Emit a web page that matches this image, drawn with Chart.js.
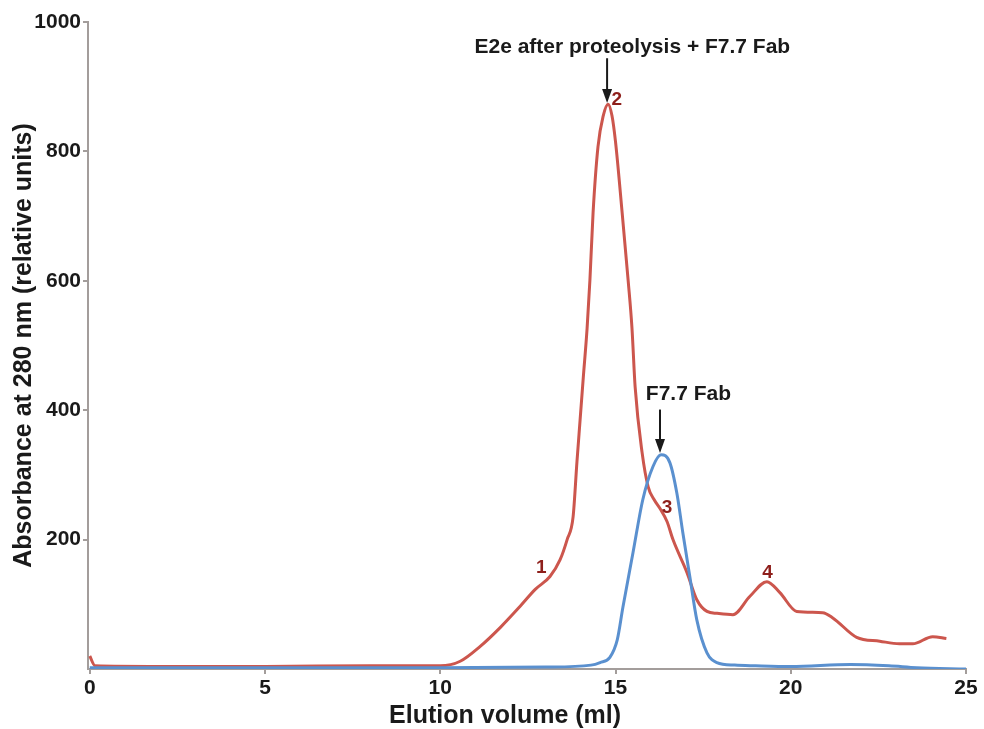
<!DOCTYPE html>
<html>
<head>
<meta charset="utf-8">
<script src="https://cdn.jsdelivr.net/npm/chart.js@4.4.0/dist/chart.umd.min.js"></script>
<style>
  html, body { margin: 0; padding: 0; background: #fff; }
  #wrap { width: 984px; height: 729px; }
</style>
</head>
<body>
<div id="wrap"><canvas id="grafico"></canvas></div>
<script>
// elution volume (ml) / absorbance
const redX = [0, 0.15, 2, 5, 8, 10, 10.57, 11.14, 11.71, 12.28, 12.71, 13.13, 13.42, 13.62, 13.79, 13.9, 13.99, 14.08, 14.19, 14.27, 14.36, 14.5, 14.65, 14.79, 14.9, 15.0, 15.19, 15.36, 15.47, 15.56, 15.76, 15.93, 16.1, 16.27, 16.47, 16.64, 17.04, 17.32, 17.61, 17.9, 18.35, 18.83, 19.32, 19.69, 20.17, 20.91, 21.2, 21.88, 22.54, 23.1, 23.48, 24.05, 24.44];
const redY = [20, 5, 4, 4, 5, 5, 12, 35, 64, 97, 123, 143, 169, 200, 235, 320, 385, 450, 527, 601, 705, 807, 855, 873, 855, 815, 705, 601, 527, 436, 334, 282, 262, 248, 228, 200, 149, 107, 89, 86, 84, 112, 135, 118, 89, 87, 79, 49, 43, 39, 39, 50, 47];

const blueX = [0, 5, 10, 13, 14.3, 14.56, 14.84, 15.05, 15.21, 15.5, 15.78, 16.07, 16.3, 16.55, 16.75, 16.92, 17.12, 17.32, 17.61, 17.89, 18.4, 19, 20, 21.7, 22.8, 23.6, 25];
const blueY = [2, 2, 2, 3, 6, 10, 18, 45, 95, 180, 262, 313, 331, 319, 272, 211, 143, 76, 25, 10, 6, 5, 4, 7, 5, 2, 0];

const xTicks = [0, 5, 10, 15, 20, 25];
const yTicks = [200, 400, 600, 800, 1000];

const peakLabels = ["1", "2", "3", "4"];
const peakLabelX = [12.88, 15.04, 16.47, 19.34];
const peakLabelY = [157, 880, 249, 149];

const arrowTexts = ["E2e after proteolysis + F7.7 Fab", "F7.7 Fab"];
const arrowX = [14.76, 16.27];
const arrowTextX = [15.48, 17.08];
const arrowTop = [944, 401];
const arrowTip = [875, 334];
const arrowTextY = [961, 424];

const tituloX = "Elution volume (ml)";
const tituloY = "Absorbance at 280 nm (relative units)";
const fonteFamilia = "'Liberation Sans', Arial, sans-serif";

const toPoints = (xs, ys) => xs.map((x, i) => ({ x: x, y: ys[i] }));

const anotacoes = {
  id: "anotacoes",
  afterDatasetsDraw(chart) {
    const ctx = chart.ctx;
    const sx = chart.scales.x, sy = chart.scales.y;
    ctx.save();
    ctx.textAlign = "center";
    ctx.textBaseline = "middle";
    // números dos picos
    ctx.fillStyle = "#8e1f1b";
    ctx.font = "bold 19px " + fonteFamilia;
    peakLabels.forEach((t, i) => {
      ctx.fillText(t, sx.getPixelForValue(peakLabelX[i]), sy.getPixelForValue(peakLabelY[i]));
    });
    // setas com legenda
    ctx.fillStyle = "#1a1a1a";
    ctx.strokeStyle = "#1a1a1a";
    ctx.lineWidth = 2;
    arrowTexts.forEach((t, i) => {
      const px = sx.getPixelForValue(arrowX[i]);
      const y0 = sy.getPixelForValue(arrowTop[i]);
      const y1 = sy.getPixelForValue(arrowTip[i]);
      ctx.beginPath();
      ctx.moveTo(px, y0);
      ctx.lineTo(px, y1 - 10);
      ctx.stroke();
      ctx.beginPath();
      ctx.moveTo(px - 5, y1 - 14);
      ctx.lineTo(px + 5, y1 - 14);
      ctx.lineTo(px, y1);
      ctx.closePath();
      ctx.fill();
      ctx.font = "bold 21px " + fonteFamilia;
      ctx.fillText(t, sx.getPixelForValue(arrowTextX[i]), sy.getPixelForValue(arrowTextY[i]));
    });
    // título do eixo x (um pouco à esquerda do centro, como no original)
    ctx.font = "bold 25px " + fonteFamilia;
    ctx.fillText(tituloX, sx.getPixelForValue(11.85), chart.height - 13);
    ctx.restore();
  }
};

const eixoCor = "#a39d9b";
const fonteTick = { family: fonteFamilia, size: 21, weight: "bold" };
const fonteTitulo = { family: fonteFamilia, size: 25, weight: "bold" };

new Chart(document.getElementById("grafico"), {
  type: "line",
  data: {
    datasets: [
      {
        label: "F7.7 Fab",
        data: toPoints(blueX, blueY),
        borderColor: "#5a90cf",
        borderWidth: 3,
        pointRadius: 0,
        cubicInterpolationMode: "monotone",
        fill: false
      },
      {
        label: "E2e after proteolysis + F7.7 Fab",
        data: toPoints(redX, redY),
        borderColor: "#cc564d",
        borderWidth: 3,
        pointRadius: 0,
        cubicInterpolationMode: "monotone",
        fill: false
      }
    ]
  },
  options: {
    responsive: true,
    maintainAspectRatio: false,
    animation: false,
    layout: { padding: { top: 22, right: 18, left: 0, bottom: 0 } },
    plugins: { legend: { display: false }, tooltip: { enabled: false } },
    scales: {
      x: {
        type: "linear",
        min: -0.05,
        max: 25,
        afterBuildTicks: (s) => { s.ticks = xTicks.map(v => ({ value: v })); },
        afterFit: (s) => { s.height = 60; },
        grid: { drawOnChartArea: false, drawTicks: true, tickLength: 5, color: eixoCor, lineWidth: 2 },
        border: { color: eixoCor, width: 2 },
        ticks: { color: "#1a1a1a", font: fonteTick, padding: 2 }
      },
      y: {
        min: 0,
        max: 1000,
        afterBuildTicks: (s) => { s.ticks = yTicks.map(v => ({ value: v })); },
        afterFit: (s) => { s.width = 88; },
        grid: { drawOnChartArea: false, drawTicks: true, tickLength: 5, color: eixoCor, lineWidth: 2 },
        border: { color: eixoCor, width: 2 },
        ticks: { color: "#1a1a1a", font: fonteTick, padding: 2, callback: (v) => String(v) },
        title: { display: true, text: tituloY, color: "#1a1a1a", font: fonteTitulo, padding: { top: 9, bottom: 0 } }
      }
    }
  },
  plugins: [anotacoes]
});
</script>
</body>
</html>
